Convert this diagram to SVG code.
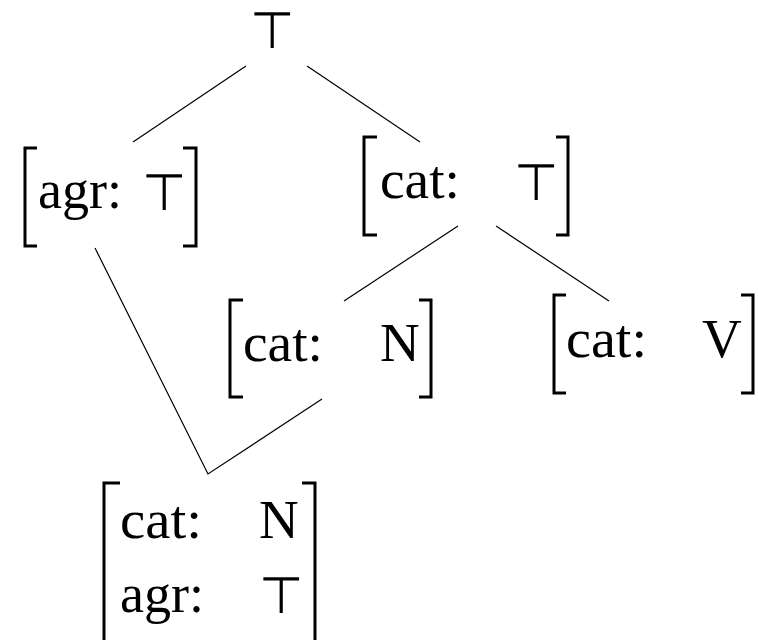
<svg xmlns="http://www.w3.org/2000/svg" width="758" height="640" viewBox="0 0 758 640">
<style>
.t{font-family:"Liberation Serif","DejaVu Serif",serif;font-size:55px;fill:#000}
.top{font-family:"DejaVu Sans",sans-serif;font-size:51px;font-weight:200;fill:#000;text-anchor:middle}
.br{fill:none;stroke:#000;stroke-width:3}
.e{fill:none;stroke:#000;stroke-width:1.2}
</style>
<rect width="758" height="640" fill="#fff"/>
<g id="connectors">
<line class="e" x1="246" y1="66" x2="133" y2="142"/>
<line class="e" x1="307" y1="66" x2="420" y2="142"/>
<line class="e" x1="458" y1="226" x2="344" y2="301"/>
<line class="e" x1="496" y1="226" x2="609" y2="301"/>
<polyline class="e" points="95,248 208,474 322,399"/>
</g>
<g id="n-root">
<text class="top" x="271.5" y="48">⊤</text>
</g>
<g id="n-agr">
<polyline class="br" points="37,148 25,148 25,246 37,246"/>
<text class="t" x="38" y="208" textLength="84" lengthAdjust="spacingAndGlyphs">agr:</text>
<text class="top" x="163.5" y="210">⊤</text>
<polyline class="br" points="183,148 196,148 196,246 183,246"/>
</g>
<g id="n-cat-top">
<polyline class="br" points="377,137 364,137 364,235 377,235"/>
<text class="t" x="380" y="198" textLength="80" lengthAdjust="spacingAndGlyphs">cat:</text>
<text class="top" x="535.5" y="200">⊤</text>
<polyline class="br" points="556,137 568,137 568,235 556,235"/>
</g>
<g id="n-cat-n">
<polyline class="br" points="243,300 230,300 230,397 243,397"/>
<text class="t" x="243" y="361" textLength="80" lengthAdjust="spacingAndGlyphs">cat:</text>
<text class="t" x="380" y="361">N</text>
<polyline class="br" points="419,300 431,300 431,397 419,397"/>
</g>
<g id="n-cat-v">
<polyline class="br" points="566,295 554,295 554,393 566,393"/>
<text class="t" x="566" y="357" textLength="81" lengthAdjust="spacingAndGlyphs">cat:</text>
<text class="t" x="702" y="357">V</text>
<polyline class="br" points="741,295 753,295 753,393 741,393"/>
</g>
<g id="n-bottom">
<polyline class="br" points="120,483 104,483 104,660"/>
<text class="t" x="120" y="538" textLength="82" lengthAdjust="spacingAndGlyphs">cat:</text>
<text class="t" x="259" y="538">N</text>
<text class="t" x="120" y="612" textLength="84" lengthAdjust="spacingAndGlyphs">agr:</text>
<text class="top" x="280.5" y="613">⊤</text>
<polyline class="br" points="302,483 315,483 315,660"/>
</g>
</svg>
